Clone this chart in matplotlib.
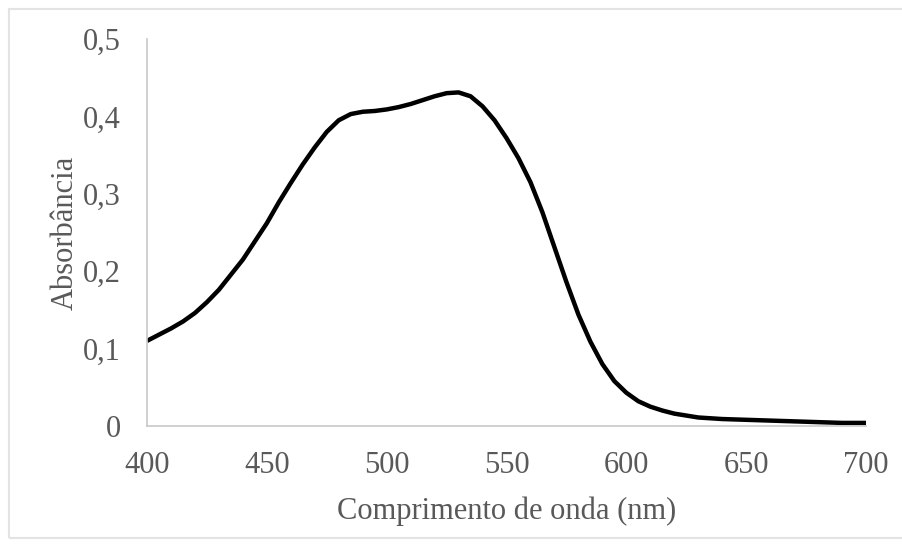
import matplotlib
matplotlib.use("Agg")
import matplotlib.pyplot as plt
from matplotlib.patches import Rectangle

# espectro de absorção
wavelength = [400, 410, 415, 420, 425, 430, 440, 450, 455, 460, 465, 470, 475, 480, 485,
              490, 495, 500, 505, 510, 515, 520, 525, 530, 535, 540, 545, 550, 555,
              560, 565, 570, 575, 580, 585, 590, 595, 600, 605, 610, 615, 620, 630,
              640, 650, 660, 670, 680, 690, 700]
absorbance = [0.110, 0.126, 0.135, 0.146, 0.160, 0.176, 0.215, 0.262, 0.289, 0.314,
              0.338, 0.360, 0.380, 0.395, 0.403, 0.406, 0.407, 0.409, 0.412, 0.416,
              0.421, 0.426, 0.430, 0.431, 0.426, 0.413, 0.395, 0.372, 0.346, 0.315,
              0.276, 0.231, 0.186, 0.144, 0.109, 0.080, 0.058, 0.043, 0.032, 0.025,
              0.020, 0.016, 0.011, 0.009, 0.008, 0.007, 0.006, 0.005, 0.004, 0.004]

x_ticks = [400, 450, 500, 550, 600, 650, 700]
y_ticks = [0, 0.1, 0.2, 0.3, 0.4, 0.5]
y_labels = ["0", "0,1", "0,2", "0,3", "0,4", "0,5"]

text_color = "#595959"
plt.rcParams['font.family'] = ['Liberation Serif', 'DejaVu Serif']

fig = plt.figure(figsize=(9.03, 5.48), dpi=100)
ax = fig.add_axes([147 / 903, 1 - 426 / 548, 719 / 903, 387 / 548])

ax.plot(wavelength, absorbance, color="black", linewidth=3.2,
        solid_capstyle="butt", solid_joinstyle="round")

ax.set_xlim(400, 700)
ax.set_ylim(0, 0.5)
ax.set_xticks(x_ticks)
ax.set_yticks(y_ticks)
ax.set_yticklabels(y_labels)
ax.tick_params(length=0, labelsize=22, colors=text_color)
ax.tick_params(axis="x", pad=18)
ax.tick_params(axis="y", pad=19)

for side in ["top", "right"]:
    ax.spines[side].set_visible(False)
for side in ["left", "bottom"]:
    ax.spines[side].set_color("#c8c8c8")
    ax.spines[side].set_linewidth(1.2)

ax.set_xlabel("Comprimento de onda (nm)", fontsize=22, color=text_color, labelpad=12)
ax.set_ylabel("Absorbância", fontsize=22, color=text_color, labelpad=2)

# moldura cinza clara do gráfico
fig.patches.append(Rectangle((9 / 903, 10 / 548), 900 / 903, 529 / 548,
                             transform=fig.transFigure, fill=False,
                             edgecolor="#e3e3e3", linewidth=1.5))

plt.savefig("out.png", dpi=100)
